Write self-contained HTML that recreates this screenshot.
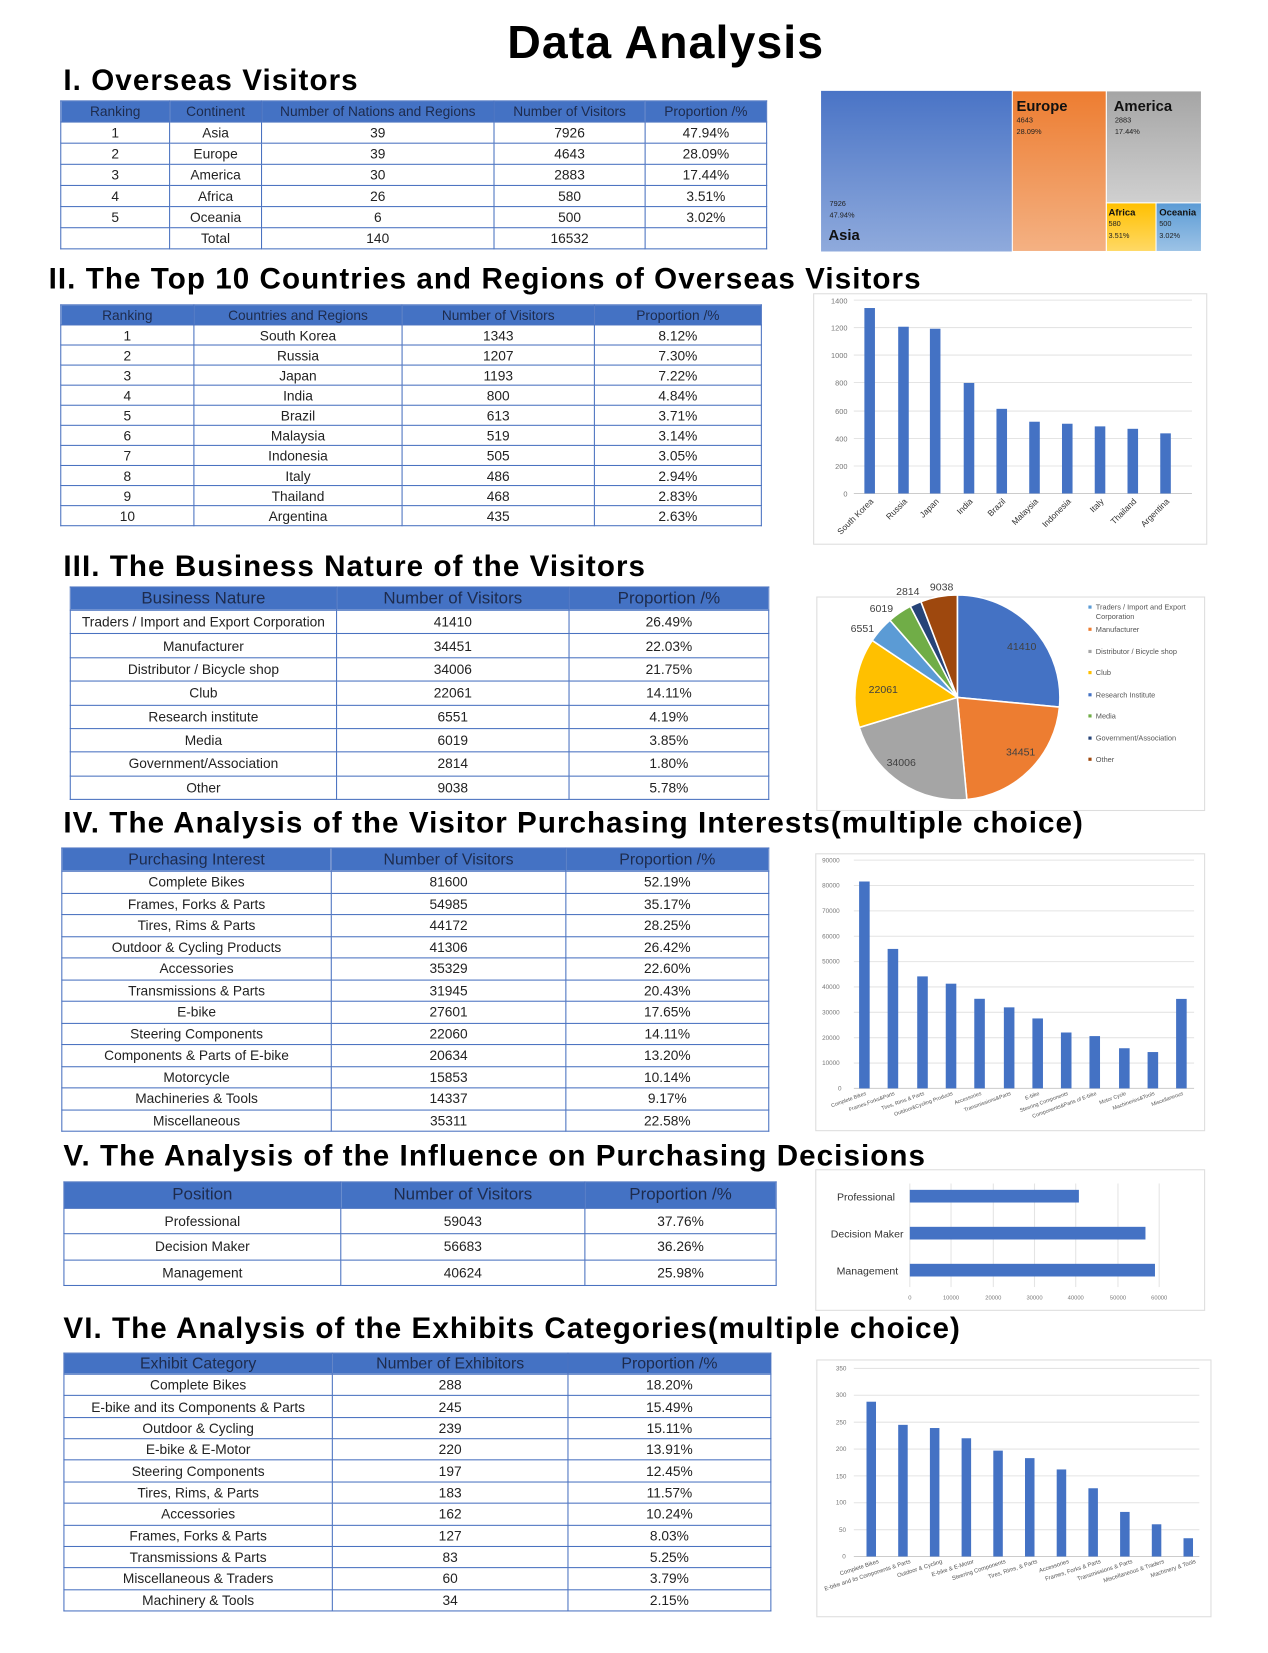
<!DOCTYPE html>
<html><head><meta charset="utf-8">
<style>
html,body{margin:0;padding:0;background:#fff;width:1268px;height:1653px;overflow:hidden}
#w{position:absolute;left:0;top:0;width:1200px;height:1564px;transform:scale(1.0567);transform-origin:0 0;font-family:"Liberation Sans",sans-serif}
h1,h2{position:absolute;margin:0;font-weight:bold;color:#000;white-space:nowrap}
h1{font-size:44px;letter-spacing:1px}
h2{font-size:28px;letter-spacing:1px}
table{position:absolute;border-collapse:collapse;table-layout:fixed;font-size:13px;color:#222}
td,th{border:1px solid #4a72c0;text-align:center;padding:0;overflow:hidden;white-space:nowrap;font-weight:normal}
th{background:#4472c4;color:#1d2b4d}
svg{position:absolute;left:0;top:0}
</style></head><body><div id="w">
<h1 style="left:480px;top:16px">Data Analysis</h1>
<h2 style="left:60px;top:60px">I. Overseas Visitors</h2>
<table style="left:57px;top:95px;width:668px;height:141px">
<colgroup><col style="width:103px"><col style="width:87px"><col style="width:220px"><col style="width:143px"><col style="width:115px"></colgroup>
<tr style="height:20px"><th>Ranking</th><th>Continent</th><th>Number of Nations and Regions</th><th>Number of Visitors</th><th>Proportion /%</th></tr>
<tr><td>1</td><td>Asia</td><td>39</td><td>7926</td><td>47.94%</td></tr>
<tr><td>2</td><td>Europe</td><td>39</td><td>4643</td><td>28.09%</td></tr>
<tr><td>3</td><td>America</td><td>30</td><td>2883</td><td>17.44%</td></tr>
<tr><td>4</td><td>Africa</td><td>26</td><td>580</td><td>3.51%</td></tr>
<tr><td>5</td><td>Oceania</td><td>6</td><td>500</td><td>3.02%</td></tr>
<tr><td></td><td>Total</td><td>140</td><td>16532</td><td></td></tr>
</table>

<h2 style="left:46px;top:248px">II. The Top 10 Countries and Regions of Overseas Visitors</h2>
<table style="left:57px;top:288px;width:663px;height:210px">
<colgroup><col style="width:126px"><col style="width:197px"><col style="width:182px"><col style="width:158px"></colgroup>
<tr style="height:19px"><th>Ranking</th><th>Countries and Regions</th><th>Number of Visitors</th><th>Proportion /%</th></tr>
<tr><td>1</td><td>South Korea</td><td>1343</td><td>8.12%</td></tr>
<tr><td>2</td><td>Russia</td><td>1207</td><td>7.30%</td></tr>
<tr><td>3</td><td>Japan</td><td>1193</td><td>7.22%</td></tr>
<tr><td>4</td><td>India</td><td>800</td><td>4.84%</td></tr>
<tr><td>5</td><td>Brazil</td><td>613</td><td>3.71%</td></tr>
<tr><td>6</td><td>Malaysia</td><td>519</td><td>3.14%</td></tr>
<tr><td>7</td><td>Indonesia</td><td>505</td><td>3.05%</td></tr>
<tr><td>8</td><td>Italy</td><td>486</td><td>2.94%</td></tr>
<tr><td>9</td><td>Thailand</td><td>468</td><td>2.83%</td></tr>
<tr><td>10</td><td>Argentina</td><td>435</td><td>2.63%</td></tr>
</table>

<h2 style="left:60px;top:520px">III. The Business Nature of the Visitors</h2>
<table style="left:66px;top:555px;width:661px;height:202px">
<colgroup><col style="width:252px"><col style="width:220px"><col style="width:189px"></colgroup>
<tr style="height:22px"><th style="font-size:16px">Business Nature</th><th style="font-size:16px">Number of Visitors</th><th style="font-size:16px">Proportion /%</th></tr>
<tr><td>Traders / Import and Export Corporation</td><td>41410</td><td>26.49%</td></tr>
<tr><td>Manufacturer</td><td>34451</td><td>22.03%</td></tr>
<tr><td>Distributor / Bicycle shop</td><td>34006</td><td>21.75%</td></tr>
<tr><td>Club</td><td>22061</td><td>14.11%</td></tr>
<tr><td>Research institute</td><td>6551</td><td>4.19%</td></tr>
<tr><td>Media</td><td>6019</td><td>3.85%</td></tr>
<tr><td>Government/Association</td><td>2814</td><td>1.80%</td></tr>
<tr><td>Other</td><td>9038</td><td>5.78%</td></tr>
</table>

<h2 style="left:60px;top:763px">IV. The Analysis of the Visitor Purchasing Interests(multiple choice)</h2>
<table style="left:58px;top:802px;width:669px;height:269px">
<colgroup><col style="width:255px"><col style="width:222px"><col style="width:192px"></colgroup>
<tr style="height:22px"><th style="font-size:15px">Purchasing Interest</th><th style="font-size:15px">Number of Visitors</th><th style="font-size:15px">Proportion /%</th></tr>
<tr><td>Complete Bikes</td><td>81600</td><td>52.19%</td></tr>
<tr><td>Frames, Forks &amp; Parts</td><td>54985</td><td>35.17%</td></tr>
<tr><td>Tires, Rims &amp; Parts</td><td>44172</td><td>28.25%</td></tr>
<tr><td>Outdoor &amp; Cycling Products</td><td>41306</td><td>26.42%</td></tr>
<tr><td>Accessories</td><td>35329</td><td>22.60%</td></tr>
<tr><td>Transmissions &amp; Parts</td><td>31945</td><td>20.43%</td></tr>
<tr><td>E-bike</td><td>27601</td><td>17.65%</td></tr>
<tr><td>Steering Components</td><td>22060</td><td>14.11%</td></tr>
<tr><td>Components &amp; Parts of E-bike</td><td>20634</td><td>13.20%</td></tr>
<tr><td>Motorcycle</td><td>15853</td><td>10.14%</td></tr>
<tr><td>Machineries &amp; Tools</td><td>14337</td><td>9.17%</td></tr>
<tr><td>Miscellaneous</td><td>35311</td><td>22.58%</td></tr>
</table>

<h2 style="left:60px;top:1078px">V. The Analysis of the Influence on Purchasing Decisions</h2>
<table style="left:60px;top:1118px;width:674px;height:99px">
<colgroup><col style="width:262px"><col style="width:231px"><col style="width:181px"></colgroup>
<tr style="height:25px"><th style="font-size:16px">Position</th><th style="font-size:16px">Number of Visitors</th><th style="font-size:16px">Proportion /%</th></tr>
<tr><td>Professional</td><td>59043</td><td>37.76%</td></tr>
<tr><td>Decision Maker</td><td>56683</td><td>36.26%</td></tr>
<tr><td>Management</td><td>40624</td><td>25.98%</td></tr>
</table>

<h2 style="left:60px;top:1241px">VI. The Analysis of the Exhibits Categories(multiple choice)</h2>
<table style="left:60px;top:1280px;width:669px;height:245px">
<colgroup><col style="width:254px"><col style="width:223px"><col style="width:192px"></colgroup>
<tr style="height:20px"><th style="font-size:15px">Exhibit Category</th><th style="font-size:15px">Number of Exhibitors</th><th style="font-size:15px">Proportion /%</th></tr>
<tr><td>Complete Bikes</td><td>288</td><td>18.20%</td></tr>
<tr><td>E-bike and its Components &amp; Parts</td><td>245</td><td>15.49%</td></tr>
<tr><td>Outdoor &amp; Cycling</td><td>239</td><td>15.11%</td></tr>
<tr><td>E-bike &amp; E-Motor</td><td>220</td><td>13.91%</td></tr>
<tr><td>Steering Components</td><td>197</td><td>12.45%</td></tr>
<tr><td>Tires, Rims, &amp; Parts</td><td>183</td><td>11.57%</td></tr>
<tr><td>Accessories</td><td>162</td><td>10.24%</td></tr>
<tr><td>Frames, Forks &amp; Parts</td><td>127</td><td>8.03%</td></tr>
<tr><td>Transmissions &amp; Parts</td><td>83</td><td>5.25%</td></tr>
<tr><td>Miscellaneous &amp; Traders</td><td>60</td><td>3.79%</td></tr>
<tr><td>Machinery &amp; Tools</td><td>34</td><td>2.15%</td></tr>
</table>

<svg width="1200" height="1564" viewBox="0 0 1200 1564" font-family="Liberation Sans, sans-serif">
<defs>
<linearGradient id="ga" x1="0" y1="0" x2="0" y2="1"><stop offset="0" stop-color="#4a74c6"/><stop offset="1" stop-color="#8faadc"/></linearGradient>
<linearGradient id="ge" x1="0" y1="0" x2="0" y2="1"><stop offset="0" stop-color="#ed7d31"/><stop offset="1" stop-color="#f4b183"/></linearGradient>
<linearGradient id="gm" x1="0" y1="0" x2="0" y2="1"><stop offset="0" stop-color="#a5a5a5"/><stop offset="1" stop-color="#d0d0d0"/></linearGradient>
<linearGradient id="gf" x1="0" y1="0" x2="0" y2="1"><stop offset="0" stop-color="#ffc000"/><stop offset="1" stop-color="#ffd966"/></linearGradient>
<linearGradient id="go" x1="0" y1="0" x2="0" y2="1"><stop offset="0" stop-color="#5b9bd5"/><stop offset="1" stop-color="#9dc3e6"/></linearGradient>
</defs>
<!-- treemap -->
<rect x="777" y="86" width="181" height="152" fill="url(#ga)"/>
<rect x="958" y="86" width="89" height="152" fill="url(#ge)" stroke="#fff" stroke-width="1"/>
<rect x="1047" y="86" width="90" height="106" fill="url(#gm)" stroke="#fff" stroke-width="1"/>
<rect x="1047" y="192" width="47" height="46" fill="url(#gf)" stroke="#fff" stroke-width="1"/>
<rect x="1094" y="192" width="43" height="46" fill="url(#go)" stroke="#fff" stroke-width="1"/>
<g font-size="7" fill="#222"><text x="785" y="195">7926</text><text x="785" y="206">47.94%</text></g>
<text x="784" y="227" font-size="14" font-weight="bold" fill="#111">Asia</text>
<text x="962" y="105" font-size="14" font-weight="bold" fill="#111">Europe</text>
<g font-size="7" fill="#222"><text x="962" y="116">4643</text><text x="962" y="127">28.09%</text></g>
<text x="1054" y="105" font-size="14" font-weight="bold" fill="#111">America</text>
<g font-size="7" fill="#222"><text x="1055" y="116">2883</text><text x="1055" y="127">17.44%</text></g>
<text x="1049" y="204" font-size="9" font-weight="bold" fill="#111">Africa</text>
<g font-size="7" fill="#222"><text x="1049" y="214">580</text><text x="1049" y="225">3.51%</text></g>
<text x="1097" y="204" font-size="9" font-weight="bold" fill="#111">Oceania</text>
<g font-size="7" fill="#222"><text x="1097" y="214">500</text><text x="1097" y="225">3.02%</text></g>

<!-- bar chart 1 -->
<rect x="770" y="278" width="372" height="237" fill="#fff" stroke="#ddd"/>
<g stroke="#e4e4e4" stroke-width="1">
<line x1="808" y1="284" x2="1128" y2="284"/><line x1="808" y1="310" x2="1128" y2="310"/><line x1="808" y1="336" x2="1128" y2="336"/><line x1="808" y1="362" x2="1128" y2="362"/><line x1="808" y1="389" x2="1128" y2="389"/><line x1="808" y1="415" x2="1128" y2="415"/><line x1="808" y1="441" x2="1128" y2="441"/><line x1="808" y1="467" x2="1128" y2="467" stroke="#ccc"/>
</g>
<g font-size="7" fill="#777" text-anchor="end">
<text x="802" y="287">1400</text><text x="802" y="313">1200</text><text x="802" y="339">1000</text><text x="802" y="365">800</text><text x="802" y="392">600</text><text x="802" y="418">400</text><text x="802" y="444">200</text><text x="802" y="470">0</text>
</g>
<g fill="#4472c4">
<rect x="818" y="291.5" width="10" height="175.5"/><rect x="850" y="309.2" width="10" height="157.8"/><rect x="880" y="311.1" width="10" height="155.9"/><rect x="912" y="362.4" width="10" height="104.6"/><rect x="943" y="386.9" width="10" height="80.1"/><rect x="974" y="399.1" width="10" height="67.9"/><rect x="1005" y="401" width="10" height="66"/><rect x="1036" y="403.5" width="10" height="63.5"/><rect x="1067" y="405.8" width="10" height="61.2"/><rect x="1098" y="410.1" width="10" height="56.9"/>
</g>
<g font-size="8" fill="#333" text-anchor="end">
<text transform="translate(827,475) rotate(-45)">South Korea</text>
<text transform="translate(859,475) rotate(-45)">Russia</text>
<text transform="translate(889,475) rotate(-45)">Japan</text>
<text transform="translate(921,475) rotate(-45)">India</text>
<text transform="translate(952,475) rotate(-45)">Brazil</text>
<text transform="translate(983,475) rotate(-45)">Malaysia</text>
<text transform="translate(1014,475) rotate(-45)">Indonesia</text>
<text transform="translate(1045,475) rotate(-45)">Italy</text>
<text transform="translate(1076,475) rotate(-45)">Thailand</text>
<text transform="translate(1107,475) rotate(-45)">Argentina</text>
</g>

<!-- pie -->
<rect x="773" y="565" width="367" height="202" fill="#fff" stroke="#ddd"/>
<g stroke="#fff" stroke-width="1.5">
<path d="M906,660 L906,563 A97,97 0 0 1 1002.6,669.1 Z" fill="#4472c4"/>
<path d="M906,660 L1002.6,669.1 A97,97 0 0 1 915,756.6 Z" fill="#ed7d31"/>
<path d="M906,660 L915,756.6 A97,97 0 0 1 813.2,688.4 Z" fill="#a5a5a5"/>
<path d="M906,660 L813.2,688.4 A97,97 0 0 1 825.4,606.1 Z" fill="#ffc000"/>
<path d="M906,660 L825.4,606.1 A97,97 0 0 1 842.2,587 Z" fill="#5b9bd5"/>
<path d="M906,660 L842.2,587 A97,97 0 0 1 861.5,573.8 Z" fill="#70ad47"/>
<path d="M906,660 L861.5,573.8 A97,97 0 0 1 871.5,569.3 Z" fill="#264478"/>
<path d="M906,660 L871.5,569.3 A97,97 0 0 1 906,563 Z" fill="#9e480e"/>
</g>
<g font-size="10" fill="#404040">
<text x="953" y="615">41410</text><text x="952" y="715">34451</text><text x="839" y="725">34006</text><text x="822" y="656">22061</text>
<text x="805" y="598">6551</text><text x="823" y="579">6019</text><text x="848" y="563">2814</text><text x="880" y="559">9038</text>
</g>
<g font-size="7" fill="#555">
<rect x="1030" y="573" width="3" height="3" fill="#5b9bd5"/><text x="1037" y="577">Traders / Import and Export</text><text x="1037" y="586">Corporation</text>
<rect x="1030" y="594" width="3" height="3" fill="#ed7d31"/><text x="1037" y="598">Manufacturer</text>
<rect x="1030" y="615" width="3" height="3" fill="#a5a5a5"/><text x="1037" y="619">Distributor / Bicycle shop</text>
<rect x="1030" y="635" width="3" height="3" fill="#ffc000"/><text x="1037" y="639">Club</text>
<rect x="1030" y="656" width="3" height="3" fill="#4472c4"/><text x="1037" y="660">Research Institute</text>
<rect x="1030" y="676" width="3" height="3" fill="#70ad47"/><text x="1037" y="680">Media</text>
<rect x="1030" y="697" width="3" height="3" fill="#264478"/><text x="1037" y="701">Government/Association</text>
<rect x="1030" y="717" width="3" height="3" fill="#9e480e"/><text x="1037" y="721">Other</text>
</g>

<!-- bar chart 2 -->
<rect x="772" y="808" width="368" height="262" fill="#fff" stroke="#ddd"/>
<g stroke="#e4e4e4">
<line x1="808" y1="814" x2="1130" y2="814"/><line x1="808" y1="838" x2="1130" y2="838"/><line x1="808" y1="862" x2="1130" y2="862"/><line x1="808" y1="886" x2="1130" y2="886"/><line x1="808" y1="910" x2="1130" y2="910"/><line x1="808" y1="934" x2="1130" y2="934"/><line x1="808" y1="958" x2="1130" y2="958"/><line x1="808" y1="982" x2="1130" y2="982"/><line x1="808" y1="1006" x2="1130" y2="1006"/><line x1="808" y1="1030" x2="1130" y2="1030" stroke="#ccc"/>
</g>
<g font-size="6" fill="#777">
<text x="778" y="816">90000</text><text x="778" y="840">80000</text><text x="778" y="864">70000</text><text x="778" y="888">60000</text><text x="778" y="912">50000</text><text x="778" y="936">40000</text><text x="778" y="960">30000</text><text x="778" y="984">20000</text><text x="778" y="1008">10000</text><text x="793" y="1032">0</text>
</g>
<g fill="#4472c4">
<rect x="813" y="834.2" width="10" height="195.8"/><rect x="840" y="898" width="10" height="132"/><rect x="868" y="924" width="10" height="106"/><rect x="895" y="930.9" width="10" height="99.1"/><rect x="922" y="945.2" width="10" height="84.8"/><rect x="950" y="953.3" width="10" height="76.7"/><rect x="977" y="963.8" width="10" height="66.2"/><rect x="1004" y="977.1" width="10" height="52.9"/><rect x="1031" y="980.5" width="10" height="49.5"/><rect x="1059" y="992" width="10" height="38"/><rect x="1086" y="995.6" width="10" height="34.4"/><rect x="1113" y="945.3" width="10" height="84.7"/>
</g>
<g font-size="5" fill="#555" text-anchor="end">
<text transform="translate(820,1036) rotate(-20)">Complete Bikes</text>
<text transform="translate(847,1036) rotate(-20)">Frames,Forks&amp;Parts</text>
<text transform="translate(875,1036) rotate(-20)">Tires, Rims &amp; Parts</text>
<text transform="translate(902,1036) rotate(-20)">Outdoor&amp;Cycling Products</text>
<text transform="translate(929,1036) rotate(-20)">Accessories</text>
<text transform="translate(957,1036) rotate(-20)">Transmissions&amp;Parts</text>
<text transform="translate(984,1036) rotate(-20)">E-bike</text>
<text transform="translate(1011,1036) rotate(-20)">Steering Components</text>
<text transform="translate(1038,1036) rotate(-20)">Components&amp;Parts of E-bike</text>
<text transform="translate(1066,1036) rotate(-20)">Motor Cycle</text>
<text transform="translate(1093,1036) rotate(-20)">Machineries&amp;Tools</text>
<text transform="translate(1120,1036) rotate(-20)">Miscellaneous</text>
</g>

<!-- hbar -->
<rect x="772" y="1107" width="368" height="133" fill="#fff" stroke="#ddd"/>
<g stroke="#e4e4e4">
<line x1="861" y1="1120" x2="861" y2="1218"/><line x1="900" y1="1120" x2="900" y2="1218"/><line x1="940" y1="1120" x2="940" y2="1218"/><line x1="979" y1="1120" x2="979" y2="1218"/><line x1="1018" y1="1120" x2="1018" y2="1218"/><line x1="1058" y1="1120" x2="1058" y2="1218"/><line x1="1097" y1="1120" x2="1097" y2="1218"/>
</g>
<g fill="#4472c4">
<rect x="861" y="1126" width="160" height="12"/><rect x="861" y="1161" width="223" height="12"/><rect x="861" y="1196" width="232" height="12"/>
</g>
<g font-size="10" fill="#333" text-anchor="end">
<text x="847" y="1136">Professional</text><text x="855" y="1171">Decision Maker</text><text x="850" y="1206">Management</text>
</g>
<g font-size="5.5" fill="#777" text-anchor="middle">
<text x="861" y="1230">0</text><text x="900" y="1230">10000</text><text x="940" y="1230">20000</text><text x="979" y="1230">30000</text><text x="1018" y="1230">40000</text><text x="1058" y="1230">50000</text><text x="1097" y="1230">60000</text>
</g>

<!-- bar chart 3 -->
<rect x="773" y="1287" width="373" height="243" fill="#fff" stroke="#ddd"/>
<g stroke="#e4e4e4">
<line x1="808" y1="1295" x2="1135" y2="1295"/><line x1="808" y1="1320.4" x2="1135" y2="1320.4"/><line x1="808" y1="1345.9" x2="1135" y2="1345.9"/><line x1="808" y1="1371.3" x2="1135" y2="1371.3"/><line x1="808" y1="1396.7" x2="1135" y2="1396.7"/><line x1="808" y1="1422.1" x2="1135" y2="1422.1"/><line x1="808" y1="1447.6" x2="1135" y2="1447.6"/><line x1="808" y1="1473" x2="1135" y2="1473" stroke="#ccc"/>
</g>
<g font-size="6" fill="#777">
<text x="791" y="1297">350</text><text x="791" y="1322">300</text><text x="791" y="1348">250</text><text x="791" y="1373">200</text><text x="791" y="1399">150</text><text x="791" y="1424">100</text><text x="794" y="1450">50</text><text x="797" y="1475">0</text>
</g>
<g fill="#4472c4">
<rect x="820" y="1326.5" width="9" height="146.5"/><rect x="850" y="1348.4" width="9" height="124.6"/><rect x="880" y="1351.4" width="9" height="121.6"/><rect x="910" y="1361.1" width="9" height="111.9"/><rect x="940" y="1372.8" width="9" height="100.2"/><rect x="970" y="1379.9" width="9" height="93.1"/><rect x="1000" y="1390.6" width="9" height="82.4"/><rect x="1030" y="1408.4" width="9" height="64.6"/><rect x="1060" y="1430.8" width="9" height="42.2"/><rect x="1090" y="1442.5" width="9" height="30.5"/><rect x="1120" y="1455.7" width="9" height="17.3"/>
</g>
<g font-size="5.5" fill="#555" text-anchor="end">
<text transform="translate(832,1479) rotate(-18)">Complete Bikes</text>
<text transform="translate(862,1479) rotate(-18)">E-bike and its Components &amp; Parts</text>
<text transform="translate(892,1479) rotate(-18)">Outdoor &amp; Cycling</text>
<text transform="translate(922,1479) rotate(-18)">E-bike &amp; E-Motor</text>
<text transform="translate(952,1479) rotate(-18)">Steering Components</text>
<text transform="translate(982,1479) rotate(-18)">Tires, Rims, &amp; Parts</text>
<text transform="translate(1012,1479) rotate(-18)">Accessories</text>
<text transform="translate(1042,1479) rotate(-18)">Frames, Forks &amp; Parts</text>
<text transform="translate(1072,1479) rotate(-18)">Transmissions &amp; Parts</text>
<text transform="translate(1102,1479) rotate(-18)">Miscellaneous &amp; Traders</text>
<text transform="translate(1132,1479) rotate(-18)">Machinery &amp; Tools</text>
</g>
</svg>
</div></body></html>
